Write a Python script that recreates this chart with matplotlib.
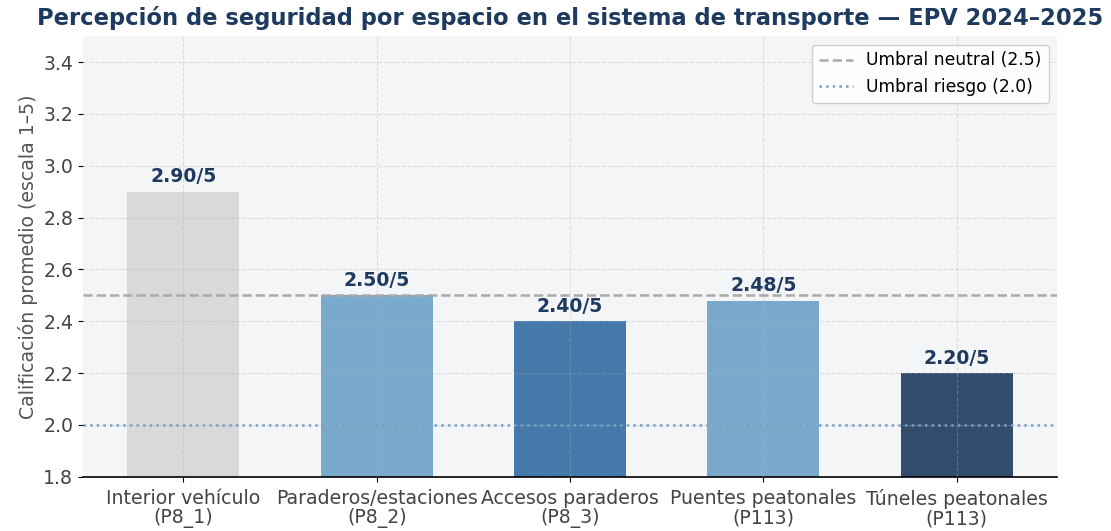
import matplotlib.pyplot as plt

plt.rcParams["font.family"] = ["DejaVu Sans"]

# data
categorias = ["Interior vehículo\n(P8_1)", "Paraderos/estaciones\n(P8_2)", "Accesos paraderos\n(P8_3)",
              "Puentes peatonales\n(P113)", "Túneles peatonales\n(P113)"]
valores = [2.90, 2.50, 2.40, 2.48, 2.20]
colores = ["#d9d9d9", "#7aaacb", "#4479aa", "#7aaacb", "#324d6c"]
umbral_neutral = 2.5
umbral_riesgo = 2.0

fig, ax = plt.subplots(figsize=(11.11, 5.31), dpi=100)
fig.subplots_adjust(left=0.0747, right=0.9515, top=0.932, bottom=0.102)
ax.set_facecolor("#f4f5f7")

x = range(len(categorias))
ax.bar(x, valores, width=0.58, color=colores, zorder=1)

ax.axhline(umbral_neutral, color="#aaaaaa", linestyle="--", linewidth=1.8, label="Umbral neutral (2.5)", zorder=2)
ax.axhline(umbral_riesgo, color="#6fa0cc", linestyle=":", linewidth=1.8, label="Umbral riesgo (2.0)", zorder=2)

for i, v in enumerate(valores):
    ax.text(i, v + 0.02, f"{v:.2f}/5", ha="center", va="bottom", fontsize=13.6,
            fontweight="bold", color="#1f3a5f", zorder=4)

ax.set_ylim(1.8, 3.5)
ax.set_xticks(list(x))
ax.set_xticklabels(categorias, fontsize=13.6, color="#444444", linespacing=1.05)
ax.tick_params(axis="y", labelsize=13.6, labelcolor="#444444")
ax.tick_params(axis="x", pad=5)
ax.set_ylabel("Calificación promedio (escala 1–5)", fontsize=13.6, color="#555555")
ax.set_title("Percepción de seguridad por espacio en el sistema de transporte — EPV 2024–2025",
             fontsize=16.3, fontweight="bold", color="#1f3a5f", pad=8)

ax.grid(True, linestyle="--", alpha=0.35, zorder=3)
ax.set_axisbelow(False)
for s in ["top", "right", "left"]:
    ax.spines[s].set_visible(False)
ax.spines["bottom"].set_linewidth(1.2)

ax.legend(loc="upper right", fontsize=12.3, framealpha=0.9)

plt.savefig("out.png", dpi=100)
